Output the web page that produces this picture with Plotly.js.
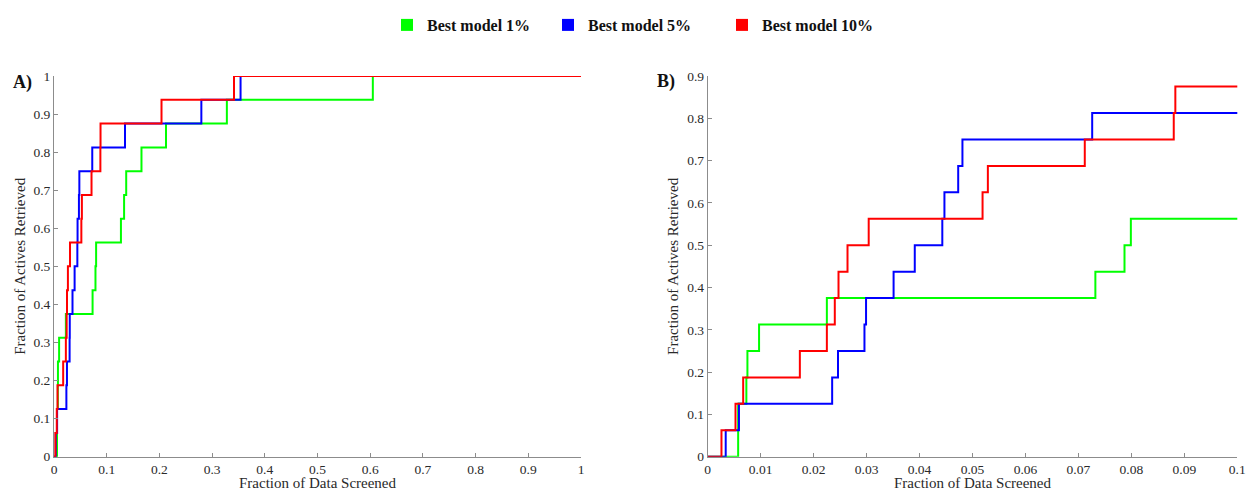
<!DOCTYPE html>
<html>
<head>
<meta charset="utf-8">
<script src="https://cdn.plot.ly/plotly-3.0.1.min.js"></script>
<style>html,body{margin:0;padding:0;background:#fff;}#chart{width:1246px;height:491px;}</style>
</head>
<body>
<div id="chart"></div>
<script>
// Fraction of data screened at which each active is retrieved (step positions)
var greenX = [0, 0.00575, 0.0073, 0.0075, 0.0097, 0.0225, 0.0732, 0.0787, 0.0799, 0.127, 0.133, 0.137, 0.166, 0.2125, 0.328, 0.605, 1];
var greenY = [0, 0.125, 0.1875, 0.25, 0.3125, 0.375, 0.4375, 0.5, 0.5625, 0.625, 0.6875, 0.75, 0.8125, 0.875, 0.9375, 1, 1];

var blueX = [0, 0.0034, 0.0059, 0.0235, 0.0246, 0.0296, 0.0299, 0.0351, 0.0391, 0.0443, 0.0447, 0.0473, 0.0481, 0.0726, 0.1347, 0.2796, 0.354, 1];
var blueY = [0, 0.0625, 0.125, 0.1875, 0.25, 0.3125, 0.375, 0.4375, 0.5, 0.5625, 0.625, 0.6875, 0.75, 0.8125, 0.875, 0.9375, 1, 1];

var redX = [0, 0.0026, 0.00525, 0.0067, 0.0174, 0.0225, 0.024, 0.0247, 0.0264, 0.0304, 0.0519, 0.0529, 0.0712, 0.088, 0.0883, 0.204, 0.3416, 1];
var redY = [0, 0.0625, 0.125, 0.1875, 0.25, 0.3125, 0.375, 0.4375, 0.5, 0.5625, 0.625, 0.6875, 0.75, 0.8125, 0.875, 0.9375, 1, 1];

var seriesNames = ['Best model 1%', 'Best model 5%', 'Best model 10%'];
var seriesColors = ['#00ff00', '#0000ff', '#ff0000'];
var panelLabels = ['A)', 'B)'];
var xTitle = 'Fraction of Data Screened';
var yTitle = 'Fraction of Actives Retrieved';
var ticksA = [0, 0.1, 0.2, 0.3, 0.4, 0.5, 0.6, 0.7, 0.8, 0.9, 1];
var ticksBx = [0, 0.01, 0.02, 0.03, 0.04, 0.05, 0.06, 0.07, 0.08, 0.09, 0.1];
var ticksBy = [0, 0.1, 0.2, 0.3, 0.4, 0.5, 0.6, 0.7, 0.8, 0.9];

var serif = 'Liberation Serif, Times New Roman, serif';
var xs = [greenX, blueX, redX];
var ys = [greenY, blueY, redY];
var legendIds = ['legend', 'legend2', 'legend3'];

var traces = [];
['x', 'x2'].forEach(function (xa, p) {
  var ya = p === 0 ? 'y' : 'y2';
  for (var i = 0; i < 3; i++) {
    traces.push({
      type: 'scatter', mode: 'lines', x: xs[i], y: ys[i],
      xaxis: xa, yaxis: ya, showlegend: false, hoverinfo: 'skip',
      line: {color: seriesColors[i], width: 2, shape: 'hv'}
    });
  }
});
for (var i = 0; i < 3; i++) {
  traces.push({
    type: 'scatter', mode: 'markers', x: [null], y: [null],
    name: seriesNames[i], legend: legendIds[i], showlegend: true,
    marker: {symbol: 'square', size: 12, color: seriesColors[i]}
  });
}

function axisCommon(tv) {
  return {
    showline: true, linecolor: '#8c8c8c', linewidth: 1,
    ticks: 'inside', ticklen: 4, tickcolor: '#8c8c8c', tickwidth: 1,
    showgrid: false, zeroline: false, mirror: false,
    tickmode: 'array', tickvals: tv, ticktext: tv.map(String),
    ticklabeloverflow: 'allow',
    tickfont: {family: serif, size: 13.5, color: '#2a2a2a'},
    title: {font: {family: serif, size: 15, color: '#2a2a2a'}}
  };
}

var xa1 = axisCommon(ticksA); xa1.domain = [54/1246, 581/1246]; xa1.range = [0, 1];
xa1.anchor = 'y'; xa1.title.text = xTitle; xa1.title.standoff = 5;
var ya1 = axisCommon(ticksA); ya1.domain = [34.3/491, 415/491]; ya1.range = [0, 1];
ya1.anchor = 'x'; ya1.title.text = yTitle; ya1.title.standoff = 4;
var xa2 = axisCommon(ticksBx); xa2.domain = [707.7/1246, 1237.3/1246]; xa2.range = [0, 0.1];
xa2.anchor = 'y2'; xa2.title.text = xTitle; xa2.title.standoff = 5;
var ya2 = axisCommon(ticksBy); ya2.domain = [34.3/491, 415/491]; ya2.range = [0, 0.9];
ya2.anchor = 'x2'; ya2.title.text = yTitle; ya2.title.standoff = 4;

function legendAt(px) {
  return {x: px/1246, xanchor: 'left', y: 1 - 25/491, yanchor: 'middle', orientation: 'h',
    bgcolor: 'rgba(0,0,0,0)', borderwidth: 0,
    font: {family: serif, size: 16, color: '#111', weight: 'bold'}};
}

var layout = {
  width: 1246, height: 491, autosize: false,
  margin: {l: 0, r: 0, t: 0, b: 0, autoexpand: false},
  paper_bgcolor: '#fff', plot_bgcolor: '#fff',
  showlegend: true,
  xaxis: xa1, yaxis: ya1, xaxis2: xa2, yaxis2: ya2,
  legend: legendAt(387), legend2: legendAt(548), legend3: legendAt(722),
  annotations: [
    {text: '<b>' + panelLabels[0] + '</b>', xref: 'paper', yref: 'paper', x: 22/1246, y: 1 - 82.5/491,
      xanchor: 'center', yanchor: 'middle', showarrow: false, font: {family: serif, size: 18, color: '#111'}},
    {text: '<b>' + panelLabels[1] + '</b>', xref: 'paper', yref: 'paper', x: 666/1246, y: 1 - 81.5/491,
      xanchor: 'center', yanchor: 'middle', showarrow: false, font: {family: serif, size: 18, color: '#111'}}
  ]
};

Plotly.newPlot('chart', traces, layout, {displayModeBar: false, staticPlot: true});
</script>
</body>
</html>
